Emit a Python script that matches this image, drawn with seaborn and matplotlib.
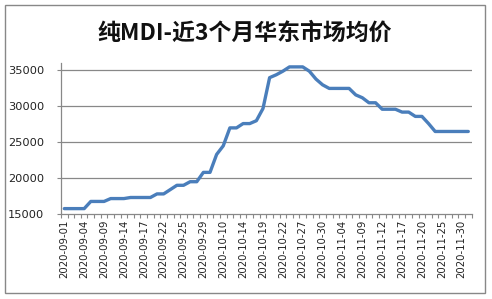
import numpy as np
import pandas as pd
import matplotlib
matplotlib.use("Agg")
import matplotlib.pyplot as plt
from matplotlib.patches import Rectangle
import seaborn as sns

title = "纯MDI-近3个月华东市场均价"

dates = [
    "2020-09-01", "2020-09-02", "2020-09-03", "2020-09-04", "2020-09-07", "2020-09-08",
    "2020-09-09", "2020-09-10", "2020-09-11", "2020-09-14", "2020-09-15", "2020-09-16",
    "2020-09-17", "2020-09-18", "2020-09-21", "2020-09-22", "2020-09-23", "2020-09-24",
    "2020-09-25", "2020-09-27", "2020-09-28", "2020-09-29", "2020-09-30", "2020-10-09",
    "2020-10-10", "2020-10-12", "2020-10-13", "2020-10-14", "2020-10-15", "2020-10-16",
    "2020-10-19", "2020-10-20", "2020-10-21", "2020-10-22", "2020-10-23", "2020-10-26",
    "2020-10-27", "2020-10-28", "2020-10-29", "2020-10-30", "2020-11-02", "2020-11-03",
    "2020-11-04", "2020-11-05", "2020-11-06", "2020-11-09", "2020-11-10", "2020-11-11",
    "2020-11-12", "2020-11-13", "2020-11-16", "2020-11-17", "2020-11-18", "2020-11-19",
    "2020-11-20", "2020-11-23", "2020-11-24", "2020-11-25", "2020-11-26", "2020-11-27",
    "2020-11-30", "2020-12-01",
]

prices = [
    15750, 15750, 15750, 15750, 16750, 16750,
    16750, 17150, 17150, 17150, 17300, 17300,
    17300, 17300, 17800, 17800, 18400, 19000,
    19000, 19500, 19500, 20800, 20800, 23300,
    24500, 27000, 27000, 27600, 27600, 28000,
    29700, 34000, 34400, 34900, 35500, 35500,
    35500, 34900, 33800, 33000, 32500, 32500,
    32500, 32500, 31600, 31200, 30500, 30500,
    29600, 29600, 29600, 29200, 29200, 28600,
    28600, 27600, 26500, 26500, 26500, 26500,
    26500, 26500,
]

y_ticks = [15000, 20000, 25000, 30000, 35000]

df = pd.DataFrame({"pos": np.arange(len(dates)), "price": prices})

sns.set_theme(style="white")
plt.rcParams["font.family"] = ["DejaVu Sans"]

fig = plt.figure(figsize=(4.92, 2.99), dpi=100)
ax = fig.add_axes([61 / 492, 85 / 299, (471.6 - 61) / 492, (214 - 63.3) / 299])

sns.lineplot(data=df, x="pos", y="price", ax=ax, color="#4A7EBB", linewidth=2.4)

n = len(dates)
ax.set_xlim(-0.5, n - 0.5)
ax.set_ylim(15000, 36000)
ax.set_yticks(y_ticks)
ax.set_yticklabels([str(v) for v in y_ticks], fontsize=8.2, color="#222222")
label_pos = list(range(0, n - 1, 3))
ax.set_xticks(label_pos)
ax.set_xticklabels([dates[i] for i in label_pos], rotation=90, fontsize=7.3, color="#222222")
ax.set_xticks(np.arange(-0.5, n, 1.0), minor=True)
ax.tick_params(axis="x", which="major", length=0, pad=4)
ax.tick_params(axis="x", which="minor", length=3, width=0.8, color="#888888", direction="out", bottom=True)
ax.tick_params(axis="y", which="major", length=3, width=0.8, color="#888888", direction="out", left=True, pad=9)

for v in y_ticks[1:]:
    ax.axhline(v, color="#888888", linewidth=0.9, zorder=0)

ax.set_xlabel("")
ax.set_ylabel("")
for s in ["top", "right"]:
    ax.spines[s].set_visible(False)
for s in ["left", "bottom"]:
    ax.spines[s].set_color("#888888")
    ax.spines[s].set_linewidth(0.9)

fig.text(245 / 492, 1 - 33 / 299, title, ha="center", va="center", fontsize=16.5, fontweight="bold",
         family=["Noto Sans CJK SC", "DejaVu Sans"], color="#111111")

fig.patches.append(Rectangle((5 / 492, 6 / 299), 480 / 492, 288 / 299, transform=fig.transFigure,
                             fill=False, edgecolor="#888888", linewidth=1.0))

fig.savefig("out.png", dpi=100, facecolor="white")
